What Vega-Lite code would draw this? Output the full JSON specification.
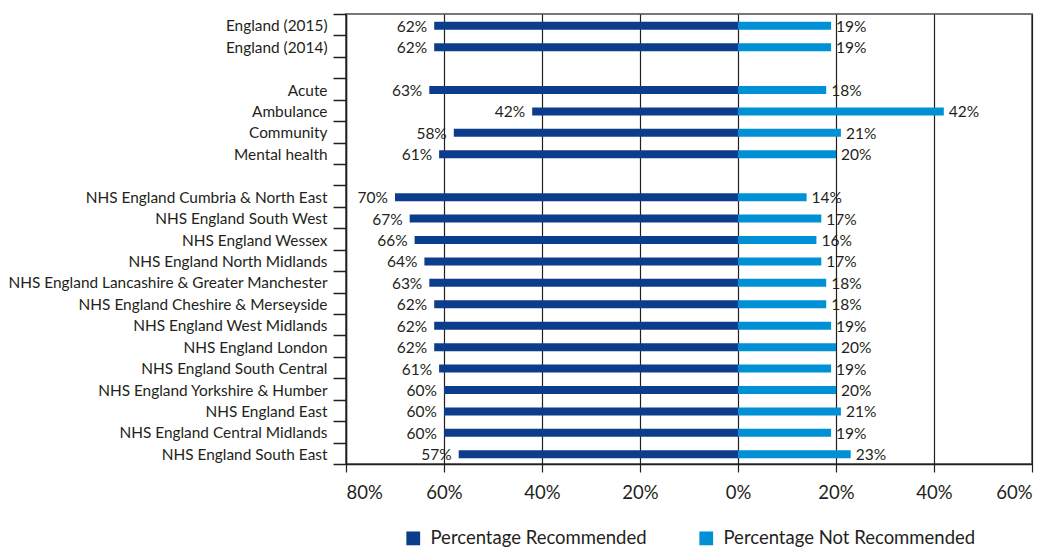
{
  "$schema": "https://vega.github.io/schema/vega-lite/v6.json",
  "width": 686,
  "height": 450,
  "autosize": {"type": "none"},
  "padding": {"left": 346, "top": 14, "right": 21, "bottom": 84},
  "background": "white",
  "config": {
    "font": "Lato",
    "view": {"stroke": "#777", "strokeWidth": 2},
    "axis": {"labelFont": "Lato", "labelColor": "#231f20", "domainColor": "#231f20", "tickColor": "#231f20", "title": null}
  },
  "data": {
    "values": [
      {"cat": "England (2015)", "series": "Percentage Recommended", "v": -62},
      {"cat": "England (2015)", "series": "Percentage Not Recommended", "v": 19},
      {"cat": "England (2014)", "series": "Percentage Recommended", "v": -62},
      {"cat": "England (2014)", "series": "Percentage Not Recommended", "v": 19},
      {"cat": "Acute", "series": "Percentage Recommended", "v": -63},
      {"cat": "Acute", "series": "Percentage Not Recommended", "v": 18},
      {"cat": "Ambulance", "series": "Percentage Recommended", "v": -42},
      {"cat": "Ambulance", "series": "Percentage Not Recommended", "v": 42},
      {"cat": "Community", "series": "Percentage Recommended", "v": -58},
      {"cat": "Community", "series": "Percentage Not Recommended", "v": 21},
      {"cat": "Mental health", "series": "Percentage Recommended", "v": -61},
      {"cat": "Mental health", "series": "Percentage Not Recommended", "v": 20},
      {"cat": "NHS England Cumbria & North East", "series": "Percentage Recommended", "v": -70},
      {"cat": "NHS England Cumbria & North East", "series": "Percentage Not Recommended", "v": 14},
      {"cat": "NHS England South West", "series": "Percentage Recommended", "v": -67},
      {"cat": "NHS England South West", "series": "Percentage Not Recommended", "v": 17},
      {"cat": "NHS England Wessex", "series": "Percentage Recommended", "v": -66},
      {"cat": "NHS England Wessex", "series": "Percentage Not Recommended", "v": 16},
      {"cat": "NHS England North Midlands", "series": "Percentage Recommended", "v": -64},
      {"cat": "NHS England North Midlands", "series": "Percentage Not Recommended", "v": 17},
      {"cat": "NHS England Lancashire & Greater Manchester", "series": "Percentage Recommended", "v": -63},
      {"cat": "NHS England Lancashire & Greater Manchester", "series": "Percentage Not Recommended", "v": 18},
      {"cat": "NHS England Cheshire & Merseyside", "series": "Percentage Recommended", "v": -62},
      {"cat": "NHS England Cheshire & Merseyside", "series": "Percentage Not Recommended", "v": 18},
      {"cat": "NHS England West Midlands", "series": "Percentage Recommended", "v": -62},
      {"cat": "NHS England West Midlands", "series": "Percentage Not Recommended", "v": 19},
      {"cat": "NHS England London", "series": "Percentage Recommended", "v": -62},
      {"cat": "NHS England London", "series": "Percentage Not Recommended", "v": 20},
      {"cat": "NHS England South Central", "series": "Percentage Recommended", "v": -61},
      {"cat": "NHS England South Central", "series": "Percentage Not Recommended", "v": 19},
      {"cat": "NHS England Yorkshire & Humber", "series": "Percentage Recommended", "v": -60},
      {"cat": "NHS England Yorkshire & Humber", "series": "Percentage Not Recommended", "v": 20},
      {"cat": "NHS England East", "series": "Percentage Recommended", "v": -60},
      {"cat": "NHS England East", "series": "Percentage Not Recommended", "v": 21},
      {"cat": "NHS England Central Midlands", "series": "Percentage Recommended", "v": -60},
      {"cat": "NHS England Central Midlands", "series": "Percentage Not Recommended", "v": 19},
      {"cat": "NHS England South East", "series": "Percentage Recommended", "v": -57},
      {"cat": "NHS England South East", "series": "Percentage Not Recommended", "v": 23}
    ]
  },
  "transform": [
    {"calculate": "abs(datum.v) + '%'", "as": "label"}
  ],
  "encoding": {
    "y": {
      "field": "cat",
      "type": "nominal",
      "scale": {
        "domain": ["England (2015)", "England (2014)", "gap1", "Acute", "Ambulance", "Community", "Mental health", "gap2",
          "NHS England Cumbria & North East", "NHS England South West", "NHS England Wessex", "NHS England North Midlands",
          "NHS England Lancashire & Greater Manchester", "NHS England Cheshire & Merseyside", "NHS England West Midlands",
          "NHS England London", "NHS England South Central", "NHS England Yorkshire & Humber", "NHS England East",
          "NHS England Central Midlands", "NHS England South East"],
        "paddingInner": 0,
        "paddingOuter": 0
      },
      "axis": {
        "labelExpr": "indexof(datum.label, 'gap') == 0 ? '' : datum.label",
        "tickBand": "extent",
        "tickSize": 13,
        "labelPadding": 6,
        "labelFontSize": 15.4,
        "labelLimit": 0,
        "labelOffset": 1,
        "domainWidth": 1.5,
        "tickWidth": 1.5
      }
    },
    "x": {
      "field": "v",
      "type": "quantitative",
      "scale": {"domain": [-80, 60], "nice": false, "zero": false},
      "axis": {
        "values": [-80, -60, -40, -20, 0, 20, 40, 60],
        "labelExpr": "abs(datum.value) + '%'",
        "grid": true,
        "gridColor": "#231f20",
        "gridWidth": 1.2,
        "tickSize": 8,
        "labelPadding": 11,
        "labelFontSize": 18.5,
        "domainWidth": 1.5,
        "tickWidth": 1.2
      }
    }
  },
  "layer": [
    {
      "mark": {"type": "bar", "size": 8, "yOffset": 1},
      "encoding": {
        "color": {
          "field": "series",
          "type": "nominal",
          "scale": {"domain": ["Percentage Recommended", "Percentage Not Recommended"], "range": ["#0b3d8c", "#0090d6"]},
          "legend": {
            "title": null,
            "orient": "none",
            "direction": "horizontal",
            "legendX": 58,
            "legendY": 515,
            "symbolType": "square",
            "symbolSize": 190,
            "symbolStrokeWidth": 0,
            "labelFontSize": 18.5,
            "labelFont": "Lato",
            "labelColor": "#231f20",
            "labelLimit": 0,
            "labelOffset": 8,
            "columnPadding": 50
          }
        }
      }
    },
    {
      "transform": [{"filter": "datum.v < 0"}],
      "mark": {"type": "text", "align": "right", "baseline": "middle", "dx": -7, "dy": 2, "fontSize": 15.5, "color": "#231f20"},
      "encoding": {"text": {"field": "label"}}
    },
    {
      "transform": [{"filter": "datum.v > 0"}],
      "mark": {"type": "text", "align": "left", "baseline": "middle", "dx": 5, "dy": 2, "fontSize": 15.5, "color": "#231f20"},
      "encoding": {"text": {"field": "label"}}
    }
  ]
}
